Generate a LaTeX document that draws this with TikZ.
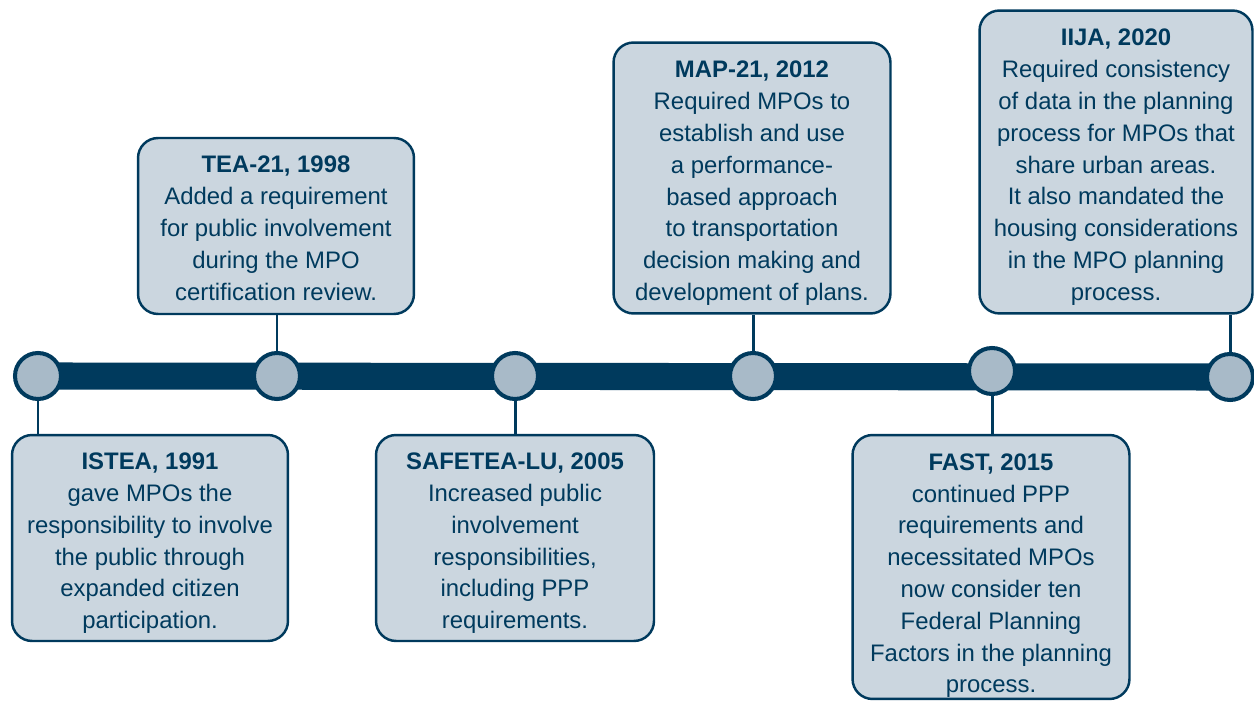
\documentclass[tikz,border=0pt]{standalone}
\usepackage{fontspec}
\setmainfont{Liberation Sans}
\definecolor{tlnavy}{RGB}{0,58,93}
\definecolor{tldot}{RGB}{168,186,200}
\definecolor{tlbox}{RGB}{203,214,223}
\newcommand{\evtitle}[2][15.5pt]{\rule{0pt}{#1}\textbf{#2}}
\tikzset{
  event/.style={draw=tlnavy, fill=tlbox, line width=1.4pt, rounded corners=0.4cm,
    align=center, text=tlnavy, inner sep=0pt, minimum width=5.52cm,
    font=\fontsize{13.6}{18.1}\selectfont},
  dot/.style={circle, draw=tlnavy, fill=tldot, line width=2.3pt,
    minimum size=0.92cm, inner sep=0pt},
  stem/.style={draw=tlnavy, line width=1.7pt},
}

\begin{document}
\begin{tikzpicture}[x=0.02cm, y=-0.02cm]
  \useasboundingbox (0,0) rectangle (1254,702);

  % timeline
  \coordinate (p1) at (38,376);
  \coordinate (p2) at (277,376);
  \coordinate (p3) at (515,376);
  \coordinate (p4) at (753,376);
  \coordinate (p5) at (992,371);
  \coordinate (p6) at (1230,377);
  \draw[tlnavy, line width=15.4pt] (p1) -- (p6);

  \foreach \i in {1,...,6}
    \node[dot] (c\i) at (p\i) {};

  % events
  \node[event, minimum height=4.12cm] (istea) at (150,538)
    {\evtitle{ISTEA, 1991}\\gave MPOs the\\responsibility to involve\\the public through\\expanded citizen\\participation.};
  \node[event, minimum height=3.52cm] (tea) at (276,226)
    {\evtitle[12pt]{TEA-21, 1998}\\Added a requirement\\for public involvement\\during the MPO\\certification review.};
  \node[event, minimum height=4.12cm, minimum width=5.56cm] (safetea) at (515,538)
    {\evtitle{SAFETEA-LU, 2005}\\Increased public\\involvement\\responsibilities,\\including PPP\\requirements.};
  \node[event, minimum height=5.42cm, minimum width=5.54cm] (map) at (752,178)
    {\evtitle{MAP-21, 2012}\\Required MPOs to\\establish and use\\a performance-\\based approach\\to transportation\\decision making and\\development of plans.};
  \node[event, minimum height=5.28cm, minimum width=5.54cm] (fast) at (991,567)
    {\evtitle[19.5pt]{FAST, 2015}\\continued PPP\\requirements and\\necessitated MPOs\\now consider ten\\Federal Planning\\Factors in the planning\\process.};
  \node[event, minimum height=6.06cm, minimum width=5.46cm] (iija) at (1116,162)
    {\evtitle{IIJA, 2020}\\Required consistency\\of data in the planning\\process for MPOs that\\share urban areas.\\It also mandated the\\housing considerations\\in the MPO planning\\process.};

  % stems
  \draw[stem] (c1.south) -- (c1 |- istea.north);
  \draw[stem] (c2.north) -- (c2 |- tea.south);
  \draw[stem] (c3.south) -- (c3 |- safetea.north);
  \draw[stem] (c4.north) -- (c4 |- map.south);
  \draw[stem] (c5.south) -- (c5 |- fast.north);
  \draw[stem] (c6.north) -- (c6 |- iija.south);
\end{tikzpicture}
\end{document}
